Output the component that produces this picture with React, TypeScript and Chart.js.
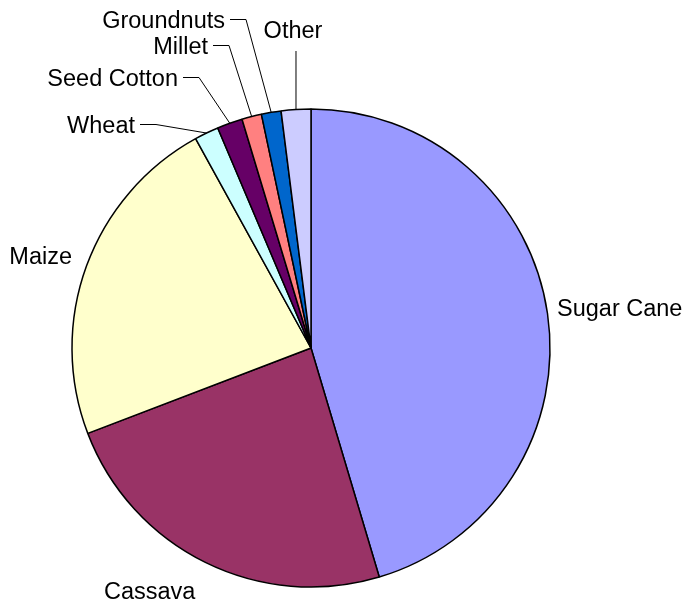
import React, { useEffect, useRef } from "react";
import { Chart, registerables } from "chart.js";

Chart.register(...registerables);

const categories = ["Sugar Cane", "Cassava", "Maize", "Wheat", "Seed Cotton", "Millet", "Groundnuts", "Other"];
const shares = [45.4, 23.8, 22.8, 1.64, 1.72, 1.33, 1.33, 2.0];
const colors = ["#9999FF", "#993366", "#FFFFCC", "#CCFFFF", "#660066", "#FF8080", "#0066CC", "#CCCCFF"];

// label layout: text anchor (baseline), alignment and leader style
const labelX = [557, 104, 72, 135, 178, 208, 225, 293];
const labelY = [316, 599, 264, 133, 86, 54, 28, 38];
const labelAlign: CanvasTextAlign[] = ["left", "left", "right", "right", "right", "right", "right", "center"];
const leaderKind = ["none", "none", "none", "h", "h", "h", "h", "v"];

const FONT = '23.5px "Liberation Sans", Arial, sans-serif';

const labelPlugin = {
  id: "outsideLabels",
  afterDraw(chart: any) {
    const ctx = chart.ctx as CanvasRenderingContext2D;
    const meta = chart.getDatasetMeta(0);
    ctx.save();
    ctx.font = FONT;
    ctx.fillStyle = "#000";
    ctx.strokeStyle = "#000";
    ctx.lineWidth = 1;
    ctx.textBaseline = "alphabetic";
    meta.data.forEach((arc: any, i: number) => {
      const p = arc.getProps(["x", "y", "startAngle", "endAngle", "outerRadius"], true);
      const mid = (p.startAngle + p.endAngle) / 2;
      const ex = p.x + Math.cos(mid) * p.outerRadius;
      const ey = p.y + Math.sin(mid) * p.outerRadius;
      ctx.textAlign = labelAlign[i];
      ctx.fillText(categories[i], labelX[i], labelY[i]);
      const kind = leaderKind[i];
      if (kind === "h") {
        const ly = labelY[i] - 8.5;
        const sx = labelX[i] + 5;
        ctx.beginPath();
        ctx.moveTo(sx, ly);
        ctx.lineTo(sx + 16, ly);
        ctx.lineTo(ex, ey);
        ctx.stroke();
      } else if (kind === "v") {
        ctx.beginPath();
        ctx.moveTo(ex, labelY[i] + 13);
        ctx.lineTo(ex, ey);
        ctx.stroke();
      }
    });
    ctx.restore();
  },
};

export default function App() {
  const ref = useRef<HTMLCanvasElement | null>(null);
  useEffect(() => {
    document.body.style.margin = "0";
    const canvas = ref.current!;
    const chart = new Chart(canvas, {
      type: "pie",
      data: {
        labels: categories,
        datasets: [
          {
            data: shares,
            backgroundColor: colors,
            borderColor: "#000000",
            borderWidth: 1.5,
          },
        ],
      },
      options: {
        responsive: false,
        animation: false,
        radius: 239,
        layout: { padding: { left: 70, right: 138, top: 108, bottom: 17 } },
        plugins: {
          legend: { display: false },
          tooltip: { enabled: false },
        },
      } as any,
      plugins: [labelPlugin],
    });
    return () => chart.destroy();
  }, []);
  return (
    <div style={{ width: 690, height: 605, background: "#fff" }}>
      <canvas ref={ref} width={690} height={605} style={{ display: "block" }} />
    </div>
  );
}
